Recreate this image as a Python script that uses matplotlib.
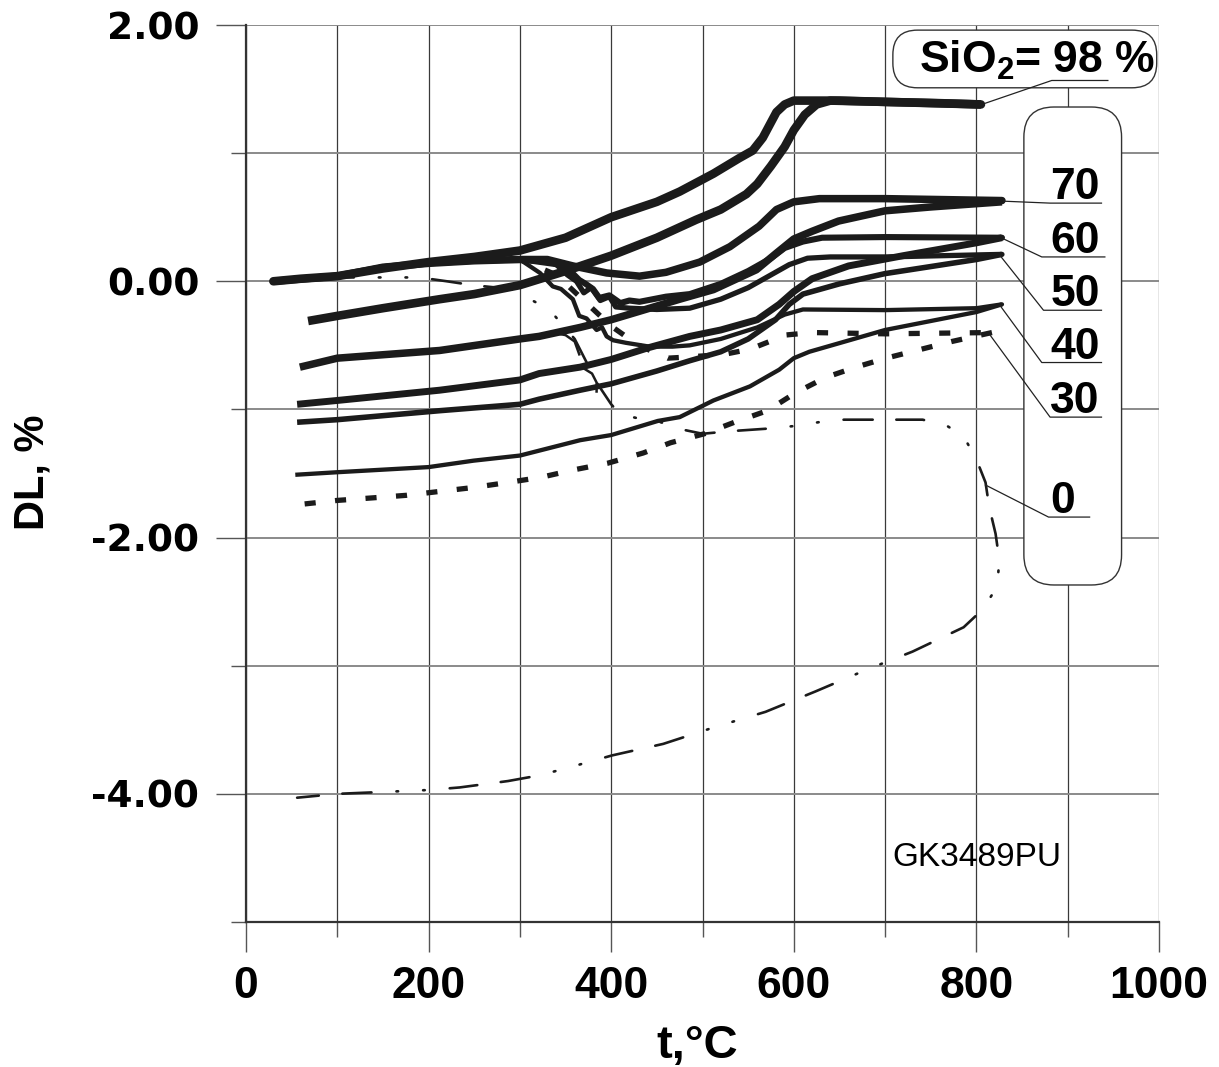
import matplotlib
matplotlib.use('Agg')
import matplotlib.pyplot as plt
from matplotlib.patches import FancyBboxPatch

plt.rcParams['axes.unicode_minus'] = False
plt.rcParams['lines.scale_dashes'] = False
plt.rcParams['mathtext.fontset'] = 'custom'
plt.rcParams['mathtext.rm'] = 'Liberation Sans:bold'
plt.rcParams['mathtext.bf'] = 'Liberation Sans:bold'
plt.rcParams['mathtext.default'] = 'rm'

# ---------------- data (t in degC, DL in %) ----------------
h98_t = [30, 60, 100, 150, 200, 250, 300, 350, 400, 450, 475, 512, 540, 555, 566, 581, 590, 600, 650, 700, 760, 805]
h98_dl = [0.0, 0.02, 0.04, 0.10, 0.15, 0.19, 0.24, 0.34, 0.50, 0.62, 0.70, 0.84, 0.96, 1.02, 1.12, 1.32, 1.38, 1.41, 1.41, 1.40, 1.39, 1.38]
c98_t = [805, 700, 640, 625, 612, 600, 590, 575, 560, 548, 520, 493, 450, 400, 350, 300, 250, 212, 150, 100, 68]
c98_dl = [1.38, 1.40, 1.41, 1.38, 1.30, 1.18, 1.05, 0.90, 0.76, 0.68, 0.56, 0.48, 0.34, 0.20, 0.08, -0.03, -0.10, -0.14, -0.21, -0.27, -0.31]

h70_t = [30, 100, 150, 200, 250, 300, 330, 358, 395, 431, 460, 497, 530, 562, 581, 600, 628, 700, 828]
h70_dl = [0.0, 0.04, 0.11, 0.14, 0.16, 0.17, 0.17, 0.12, 0.065, 0.04, 0.07, 0.15, 0.27, 0.43, 0.56, 0.62, 0.645, 0.645, 0.63]
c70_t = [828, 750, 700, 649, 620, 600, 581, 559, 512, 475, 400, 366, 321, 300, 212, 100, 59]
c70_dl = [0.62, 0.58, 0.55, 0.47, 0.39, 0.33, 0.22, 0.09, -0.065, -0.14, -0.30, -0.36, -0.43, -0.45, -0.54, -0.60, -0.67]

h60_t = [30, 100, 150, 200, 250, 300, 335, 350, 358, 365, 372, 380, 387, 398, 410, 420, 431, 460, 486, 520, 550, 575, 590, 610, 631, 700, 828]
h60_dl = [0.0, 0.04, 0.11, 0.14, 0.16, 0.17, 0.15, 0.10, 0.06, 0.01, -0.02, -0.06, -0.13, -0.11, -0.17, -0.15, -0.16, -0.12, -0.10, -0.02, 0.08, 0.18, 0.26, 0.31, 0.34, 0.345, 0.34]
c60_t = [828, 800, 720, 660, 620, 600, 584, 560, 520, 486, 440, 400, 366, 321, 300, 212, 100, 56]
c60_dl = [0.34, 0.30, 0.20, 0.12, 0.02, -0.08, -0.18, -0.30, -0.38, -0.43, -0.52, -0.61, -0.67, -0.72, -0.77, -0.85, -0.93, -0.96]

h50_t = [30, 100, 150, 200, 250, 300, 340, 352, 362, 370, 378, 388, 398, 405, 420, 450, 486, 520, 550, 575, 595, 615, 640, 700, 828]
h50_dl = [0.0, 0.04, 0.11, 0.14, 0.16, 0.17, 0.13, 0.05, 0.0, -0.09, -0.05, -0.15, -0.12, -0.20, -0.21, -0.22, -0.21, -0.14, -0.05, 0.05, 0.13, 0.18, 0.19, 0.19, 0.21]
c50_t = [828, 800, 700, 650, 610, 595, 580, 550, 520, 486, 450, 400, 366, 321, 300, 212, 100, 56]
c50_dl = [0.21, 0.17, 0.06, -0.02, -0.10, -0.18, -0.30, -0.45, -0.55, -0.62, -0.70, -0.80, -0.85, -0.92, -0.96, -1.01, -1.08, -1.10]

h40_t = [30, 100, 150, 200, 250, 300, 322, 336, 345, 358, 365, 373, 384, 390, 395, 402, 416, 442, 467, 486, 520, 560, 590, 610, 700, 800, 828]
h40_dl = [0.0, 0.04, 0.11, 0.14, 0.16, 0.17, 0.065, -0.04, -0.06, -0.14, -0.27, -0.29, -0.38, -0.36, -0.43, -0.46, -0.48, -0.51, -0.51, -0.50, -0.45, -0.36, -0.26, -0.22, -0.225, -0.21, -0.18]
c40_t = [828, 800, 700, 617, 600, 584, 552, 512, 475, 451, 400, 366, 300, 249, 200, 150, 100, 54]
c40_dl = [-0.18, -0.24, -0.38, -0.55, -0.60, -0.69, -0.82, -0.93, -1.06, -1.09, -1.20, -1.24, -1.36, -1.40, -1.45, -1.47, -1.49, -1.51]

h30_t = [30, 100, 150, 200, 250, 300, 340, 370, 400, 430, 462, 486, 524, 552, 577, 590, 620, 700, 817]
h30_dl = [0.0, 0.04, 0.11, 0.14, 0.16, 0.17, 0.05, -0.15, -0.35, -0.50, -0.60, -0.59, -0.57, -0.53, -0.46, -0.42, -0.40, -0.41, -0.40]
c30_t = [817, 773, 701, 668, 635, 602, 571, 535, 502, 465, 435, 396, 360, 323, 287, 248, 212, 176, 139, 100, 61]
c30_dl = [-0.40, -0.47, -0.60, -0.67, -0.75, -0.87, -1.01, -1.10, -1.19, -1.26, -1.34, -1.42, -1.47, -1.53, -1.57, -1.61, -1.64, -1.67, -1.69, -1.71, -1.74]

s0_t = [30, 100, 190, 220, 248, 290, 319, 337, 360, 385, 400, 410, 430, 450, 480, 500, 530, 571, 600, 627, 655, 700, 741, 766, 786, 800, 810, 814, 821, 825, 823, 807,
        786, 730, 680, 624, 569, 513, 457, 401, 346, 318, 287, 234, 200, 100, 56]
s0_dl = [0.0, 0.03, 0.03, 0.0, -0.03, -0.06, -0.17, -0.26, -0.45, -0.80, -0.96, -1.04, -1.07, -1.09, -1.16, -1.19, -1.17, -1.15, -1.13, -1.10, -1.08, -1.08, -1.08, -1.12, -1.21, -1.39, -1.57, -1.76, -1.97, -2.17, -2.38, -2.56,
         -2.70, -2.89, -3.03, -3.20, -3.36, -3.48, -3.61, -3.70, -3.81, -3.86, -3.90, -3.95, -3.97, -4.00, -4.03]

hook1_t = [335, 350, 360, 365]
hook1_dl = [-0.40, -0.42, -0.47, -0.57]
hook2_t = [370, 379, 384, 384]
hook2_dl = [-0.68, -0.72, -0.79, -0.86]

legend_labels = ['70', '60', '50', '40', '30', '0']
x_ticks = [0, 200, 400, 600, 800, 1000]
x_ticklabels = ['0', '200', '400', '600', '800', '1000']
y_ticks = [-4, -2, 0, 2]
y_ticklabels = ['-4.00', '-2.00', '0.00', '2.00']

# ---------------- figure ----------------
fig = plt.figure(figsize=(12.19, 10.67), dpi=100)
W, H = 1219, 1067
ax = fig.add_axes([246 / W, (H - 922) / H, (1159 - 246) / W, (922 - 25) / H])
ax.set_xlim(0, 1000)
ax.set_ylim(-5, 2)

ink = '#1b1b1b'
dash30 = (0, (8, 14))
dashdot0 = (0, (21, 17, 20, 18, 1.2, 18, 1.2, 18))

curves = [
    (h98_t, h98_dl, dict(lw=6.2, ls='-', solid_capstyle='round', solid_joinstyle='round')),
    (c98_t, c98_dl, dict(lw=6.2, ls='-', solid_capstyle='butt', solid_joinstyle='round')),
    (h70_t, h70_dl, dict(lw=5.4, ls='-', solid_capstyle='round', solid_joinstyle='round')),
    (c70_t, c70_dl, dict(lw=5.4, ls='-', solid_capstyle='butt', solid_joinstyle='round')),
    (h60_t, h60_dl, dict(lw=4.4, ls='-', solid_capstyle='round', solid_joinstyle='round')),
    (c60_t, c60_dl, dict(lw=5.0, ls='-', solid_capstyle='butt', solid_joinstyle='round')),
    (h50_t, h50_dl, dict(lw=3.8, ls='-', solid_capstyle='round', solid_joinstyle='round')),
    (c50_t, c50_dl, dict(lw=4.0, ls='-', solid_capstyle='butt', solid_joinstyle='round')),
    (h40_t, h40_dl, dict(lw=3.1, ls='-', solid_capstyle='round', solid_joinstyle='round')),
    (c40_t, c40_dl, dict(lw=3.1, ls='-', solid_capstyle='butt', solid_joinstyle='round')),
    (h30_t, h30_dl, dict(lw=3.8, ls=dash30, dash_capstyle='butt')),
    (c30_t, c30_dl, dict(lw=3.8, ls=dash30, dash_capstyle='butt')),
    (s0_t, s0_dl, dict(lw=1.9, ls=dashdot0, dash_capstyle='round')),
    (hook1_t, hook1_dl, dict(lw=1.8, ls='-')),
    (hook2_t, hook2_dl, dict(lw=1.8, ls='-')),
]
for t, dl, st in curves:
    ax.plot(t, dl, color=ink, zorder=4, **st)

# grid / ticks
ax.set_axisbelow(True)
ax.set_xticks(x_ticks)
ax.set_xticks(list(range(100, 1000, 200)), minor=True)
ax.set_yticks(y_ticks)
ax.set_yticks([-5, -3, -1, 1], minor=True)
ax.grid(which='both', axis='x', color='#3a3a3a', lw=0.9)
ax.grid(which='both', axis='y', color='#8a8a8a', lw=1.4)
ax.tick_params(which='major', direction='out', length=21.6, width=1.0, color='#555555')
ax.tick_params(which='minor', direction='out', length=10.8, width=1.0, color='#555555')
ax.tick_params(axis='x', which='major', pad=10)
ax.tick_params(axis='y', which='major', pad=12)
ax.set_xticklabels(x_ticklabels, fontsize=32, fontweight='bold', family='Liberation Sans')
ax.set_yticklabels(y_ticklabels, fontsize=27, fontweight='bold', family='DejaVu Sans')
for s in ['top', 'right']:
    ax.spines[s].set_visible(False)
for s in ['left', 'bottom']:
    ax.spines[s].set_color('#333333')
    ax.spines[s].set_linewidth(1.6)

# axis titles
fig.text(697 / W, 1 - 1046 / H, 't,°C', ha='center', va='center', fontsize=34,
         fontweight='bold', family='Liberation Sans')
fig.text(33 / W, 1 - 472 / H, 'DL, %', ha='center', va='center', rotation=90,
         fontsize=30, fontweight='bold', family='Liberation Sans')

# annotation text
ax.text(708, -4.50, 'GK3489PU', ha='left', va='center', fontsize=24, family='Liberation Sans', zorder=6)

# rounded boxes (aspect-corrected rounding)
asp = (1.0 / 128.2) / (1.0 / 0.9132)
box1 = FancyBboxPatch((708.5, 1.51), 289, 0.45, boxstyle='round,pad=0,rounding_size=27',
                      mutation_aspect=asp, fc='white', ec='#333333', lw=1.0, zorder=3, clip_on=False)
box2 = FancyBboxPatch((852, -2.37), 107, 3.73, boxstyle='round,pad=0,rounding_size=33',
                      mutation_aspect=asp, fc='white', ec='#333333', lw=1.0, zorder=3, clip_on=False)
ax.add_patch(box1)
ax.add_patch(box2)

ax.text(866, 1.72, r'SiO$_2$= 98 %', ha='center', va='center', fontsize=32,
        fontweight='bold', family='Liberation Sans', zorder=6)
ax.plot([810, 882.5, 944], [1.39, 1.567, 1.567], color='#222222', lw=0.9, zorder=5)

# label leaders: (start_x, start_y, underline_x0, underline_x1, underline_y)
leaders = [
    (830, 0.625, 880.7, 937, 0.61),
    (830, 0.33, 871.6, 940.7, 0.19),
    (826, 0.20, 873.5, 937, -0.226),
    (826, -0.19, 871.6, 937, -0.634),
    (815, -0.42, 880.7, 937, -1.06),
    (810, -1.59, 879, 924, -1.84),
]
for lab, (sx, sy, ux0, ux1, uy) in zip(legend_labels, leaders):
    ax.plot([sx, ux0, ux1], [sy, uy, uy], color='#222222', lw=0.9, zorder=5)
    ax.text(881, uy + 0.03, lab, ha='left', va='baseline', fontsize=32,
            fontweight='bold', family='Liberation Sans', zorder=6)

fig.savefig('out.png', dpi=100)
